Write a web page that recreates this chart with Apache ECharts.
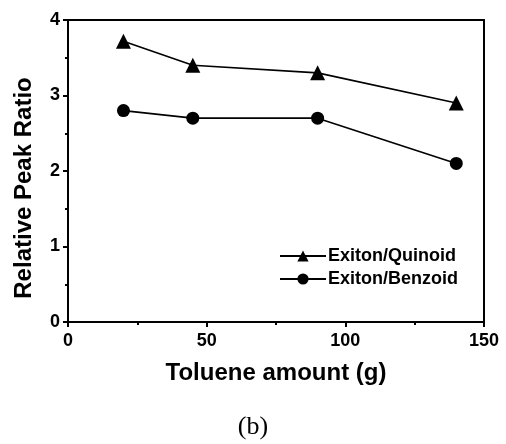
<!DOCTYPE html>
<html>
<head>
<meta charset="utf-8">
<script src="https://cdn.jsdelivr.net/npm/echarts@6/dist/echarts.min.js"></script>
<style>html,body{margin:0;padding:0;background:#fff;}#c{width:506px;height:444px;}</style>
</head>
<body>
<div id="c"></div>
<script>
var tolueneAmount = [20, 45, 90, 140];
var exitonQuinoid = [3.72, 3.40, 3.30, 2.90];
var exitonBenzoid = [2.80, 2.70, 2.70, 2.10];
var seriesNames = ['Exiton/Quinoid', 'Exiton/Benzoid'];
var xTitle = 'Toluene amount (g)';
var yTitle = 'Relative Peak Ratio';
var caption = '(b)';

function pairs(xs, ys) { return xs.map(function (x, i) { return [x, ys[i]]; }); }

var chart = echarts.init(document.getElementById('c'), null, { renderer: 'canvas' });
var font = 'Liberation Sans, Arial, sans-serif';
var axisBase = {
  axisLine: { show: true, onZero: false, lineStyle: { color: '#000', width: 2 } },
  splitLine: { show: false }
};
chart.setOption({
  backgroundColor: '#fff',
  animation: false,
  grid: { left: 68, right: 22, top: 20, bottom: 122 },
  legend: {
    orient: 'vertical', left: 274, top: 242, itemGap: 5, itemWidth: 46, itemHeight: 14,
    data: seriesNames,
    textStyle: { fontFamily: font, fontWeight: 'bold', fontSize: 18, color: '#000', padding: [0, 0, 0, -3] }
  },
  xAxis: [Object.assign({
    type: 'value', min: 0, max: 150, interval: 50, position: 'bottom',
    name: xTitle, nameLocation: 'middle', nameGap: 39,
    nameTextStyle: { fontFamily: font, fontWeight: 'bold', fontSize: 24, color: '#000' },
    axisTick: { show: true, inside: false, length: 5, lineStyle: { color: '#000', width: 2 } },
    minorTick: { show: true, splitNumber: 2, length: 3, lineStyle: { color: '#000', width: 2 } },
    axisLabel: { margin: 10, fontFamily: font, fontWeight: 'bold', fontSize: 18, color: '#000' }
  }, axisBase), Object.assign({
    type: 'value', min: 0, max: 150, position: 'top',
    axisTick: { show: false }, axisLabel: { show: false }
  }, axisBase)],
  yAxis: [Object.assign({
    type: 'value', min: 0, max: 4, interval: 1, position: 'left',
    axisTick: { show: true, inside: false, length: 5, lineStyle: { color: '#000', width: 2 } },
    minorTick: { show: true, splitNumber: 2, length: 3, lineStyle: { color: '#000', width: 2 } },
    axisLabel: { margin: 8, fontFamily: font, fontWeight: 'bold', fontSize: 18, color: '#000' }
  }, axisBase), Object.assign({
    type: 'value', min: 0, max: 4, position: 'right',
    axisTick: { show: false }, axisLabel: { show: false }
  }, axisBase)],
  graphic: [{
    type: 'text', x: 12, y: 188, rotation: Math.PI / 2,
    style: { text: yTitle, fontFamily: font, fontWeight: 'bold', fontSize: 24, fill: '#000',
             textAlign: 'center', textVerticalAlign: 'top' }
  }, {
    type: 'text', x: 253, y: 427,
    style: { text: caption, fontFamily: 'Liberation Serif, Times New Roman, serif', fontSize: 26, fill: '#000',
             textAlign: 'center', textVerticalAlign: 'middle' }
  }],
  series: [{
    name: seriesNames[0], type: 'line', data: pairs(tolueneAmount, exitonQuinoid),
    symbol: 'triangle', symbolSize: 15,
    lineStyle: { color: '#000', width: 1.6 }, itemStyle: { color: '#000' }
  }, {
    name: seriesNames[1], type: 'line', data: pairs(tolueneAmount, exitonBenzoid),
    symbol: 'circle', symbolSize: 13,
    lineStyle: { color: '#000', width: 1.6 }, itemStyle: { color: '#000' }
  }]
});
</script>
</body>
</html>
